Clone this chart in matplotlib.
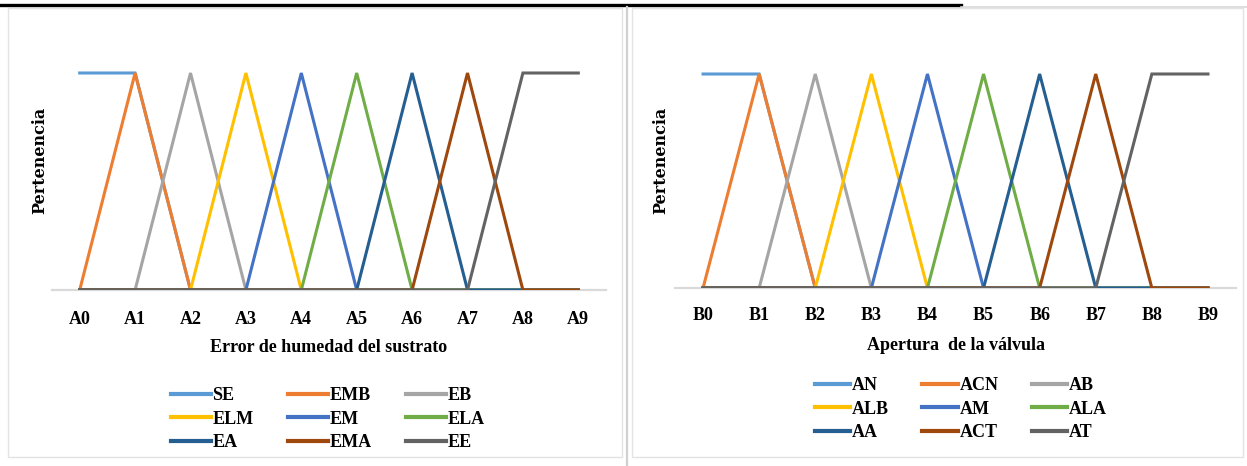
import matplotlib
matplotlib.use("Agg")
import matplotlib.pyplot as plt
from matplotlib.lines import Line2D
from matplotlib.patches import Rectangle

# ---------------- data ----------------
cats_a = ["A0", "A1", "A2", "A3", "A4", "A5", "A6", "A7", "A8", "A9"]
cats_b = ["B0", "B1", "B2", "B3", "B4", "B5", "B6", "B7", "B8", "B9"]

names_a = ["SE", "EMB", "EB", "ELM", "EM", "ELA", "EA", "EMA", "EE"]
names_b = ["AN", "ACN", "AB", "ALB", "AM", "ALA", "AA", "ACT", "AT"]

s1 = [1, 1, 0, 0, 0, 0, 0, 0, 0, 0]
s2 = [0, 1, 0, 0, 0, 0, 0, 0, 0, 0]
s3 = [0, 0, 1, 0, 0, 0, 0, 0, 0, 0]
s4 = [0, 0, 0, 1, 0, 0, 0, 0, 0, 0]
s5 = [0, 0, 0, 0, 1, 0, 0, 0, 0, 0]
s6 = [0, 0, 0, 0, 0, 1, 0, 0, 0, 0]
s7 = [0, 0, 0, 0, 0, 0, 1, 0, 0, 0]
s8 = [0, 0, 0, 0, 0, 0, 0, 1, 0, 0]
s9 = [0, 0, 0, 0, 0, 0, 0, 0, 1, 1]
series = [s1, s2, s3, s4, s5, s6, s7, s8, s9]

colors = ["#5B9BD5", "#ED7D31", "#A5A5A5", "#FFC000", "#4472C4",
          "#70AD47", "#255E91", "#9E480E", "#636363"]

W, H = 1247, 466
fig = plt.figure(figsize=(W / 100, H / 100), dpi=100)
fig.patch.set_facecolor("white")

FONT = "Liberation Serif"
FS = 13


def fx(x):
    return x / W


def fy(y):
    return 1 - y / H


# page decoration: top rule and panel frames
fig.add_artist(Line2D([0, fx(961)], [fy(5), fy(5)], color="black", lw=2.4,
                      transform=fig.transFigure))
fig.add_artist(Line2D([fx(961), 1], [fy(6.5), fy(6.5)], color="#D9D9D9", lw=1.2,
                      transform=fig.transFigure))
fig.add_artist(Rectangle((fx(8), fy(457)), fx(614), (449) / H, fill=False,
                         ec="#E3E3E3", lw=1.0, transform=fig.transFigure))
fig.add_artist(Line2D([fx(627), fx(627)], [fy(7), 0], color="#D0D0D0", lw=1.6,
                      transform=fig.transFigure))
fig.add_artist(Rectangle((fx(632), fy(457)), fx(611), (449) / H, fill=False,
                         ec="#E3E3E3", lw=1.0, transform=fig.transFigure))


def panel(x_left, x_right, y0, y1, cats, names, xlabel, ylab_x,
          xlab_y, tick_pad, leg_y, leg_x, hlen, cspace):
    # y0: pixel of value 0, y1: pixel of value 1
    top_val = 1.15
    ppu = y0 - y1
    ax = fig.add_axes([fx(x_left), 1 - y0 / H, fx(x_right - x_left),
                       ppu * top_val / H])
    xs = list(range(len(cats)))
    handles = []
    for vals, c, n in zip(series, colors, names):
        h, = ax.plot(xs, vals, color=c, lw=2.2, label=n,
                     solid_joinstyle="miter", zorder=3)
        handles.append(h)
    ax.set_xlim(-0.5, len(cats) - 0.5)
    ax.set_ylim(0, top_val)
    ax.set_yticks([])
    ax.set_xticks(xs)
    ax.set_xticklabels(cats, fontfamily=FONT, fontweight="bold", fontsize=FS)
    ax.tick_params(axis="x", length=0, pad=tick_pad)
    for s in ["top", "right", "left"]:
        ax.spines[s].set_visible(False)
    ax.spines["bottom"].set_color("#D9D9D9")
    ax.spines["bottom"].set_linewidth(1.6)
    ax.patch.set_alpha(0)
    cx = (x_left + x_right) / 2
    fig.text(fx(cx), fy(xlab_y), xlabel, ha="center", va="center",
             fontfamily=FONT, fontweight="bold", fontsize=FS)
    fig.text(fx(ylab_x), fy(160), "Pertenencia", ha="center", va="center",
             rotation=90, fontfamily="DejaVu Serif", fontweight="bold",
             fontsize=11.5)
    order = [0, 3, 6, 1, 4, 7, 2, 5, 8]
    leg = fig.legend([handles[i] for i in order], [names[i] for i in order],
                     ncol=3, loc="upper left",
                     bbox_to_anchor=(fx(leg_x), fy(leg_y)),
                     frameon=False, prop={"family": FONT, "weight": "bold",
                                          "size": FS},
                     handlelength=hlen, handletextpad=0.1,
                     columnspacing=cspace, labelspacing=0.37,
                     borderpad=0, borderaxespad=0)
    for l in leg.get_lines():
        l.set_linewidth(3)
    return ax


panel(52, 606, 290, 73, cats_a, names_a, "Error de humedad del sustrato",
      40, 348, 15, 387, 171, 2.2, 1.9)
panel(675, 1236, 288, 74, cats_b, names_b, "Apertura  de la válvula",
      661, 346, 14, 377, 815, 1.95, 1.85)

fig.savefig("out.png", dpi=100, facecolor="white")
